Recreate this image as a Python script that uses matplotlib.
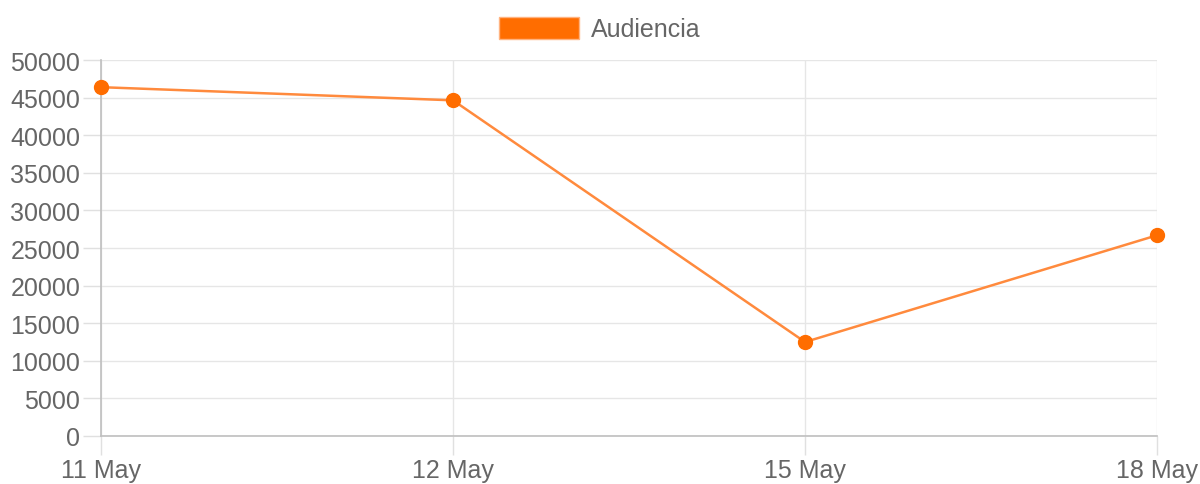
import matplotlib.pyplot as plt
from matplotlib.patches import Patch

plt.rcParams['font.family'] = ['Liberation Sans', 'DejaVu Sans']

dates = ['11 May', '12 May', '15 May', '18 May']
audiencia = [46400, 44650, 12500, 26700]
yticks = list(range(0, 50001, 5000))

text_color = '#666666'
line_color = '#ff8a3d'
point_color = '#ff6d00'

fig = plt.figure(figsize=(12, 4.85), dpi=100)
ax = fig.add_axes([0.0842, 0.099, 0.8800, 0.775])

x = range(len(dates))
ax.plot(x, audiencia, color=line_color, lw=1.8, zorder=3, clip_on=False)
ax.plot(x, audiencia, 'o', color=point_color, markersize=10, zorder=4, clip_on=False)

ax.set_xlim(0, len(dates) - 1)
ax.set_ylim(0, 50000)
ax.set_xticks(list(x))
ax.set_xticklabels(dates)
ax.set_yticks(yticks)
ax.set_yticklabels([str(v) for v in yticks])

ax.grid(True, color='#e6e6e6', lw=1)
ax.set_axisbelow(True)
for side in ['top', 'right']:
    ax.spines[side].set_visible(False)
for side in ['left', 'bottom']:
    ax.spines[side].set_color('#bfbfbf')
    ax.spines[side].set_linewidth(1.2)
ax.tick_params(axis='both', colors='#e0e0e0', width=1,
               labelcolor=text_color, labelsize=18)
ax.tick_params(axis='y', length=13, pad=2)
ax.tick_params(axis='x', length=14, pad=2)

handle = Patch(facecolor=point_color, edgecolor='#ffb380', lw=1, label='Audiencia')
fig.legend(handles=[handle], loc='upper center', bbox_to_anchor=(0.5, 1.01),
           frameon=False, fontsize=18, labelcolor=text_color,
           handlelength=3.2, handleheight=1.0, handletextpad=0.5)

fig.savefig('out.png', dpi=100)
